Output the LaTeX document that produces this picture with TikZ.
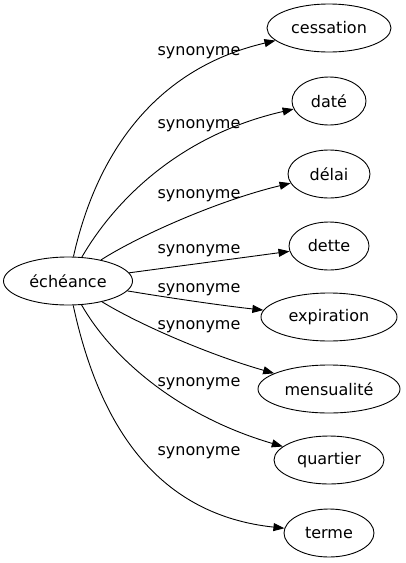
\documentclass[tikz,border=0pt]{standalone}
\usepackage{fontspec}
\setmainfont{DejaVu Sans}
\usetikzlibrary{shapes.geometric,arrows.meta}

\begin{document}
\begin{tikzpicture}[x=1pt,y=-1pt,
        word/.style={draw,ellipse,inner sep=0pt,minimum height=48pt,line width=0.9pt,font=\fontsize{16}{19}\selectfont},
        syn/.style={-{Triangle[length=11pt,width=8pt]},line width=0.9pt},
        rel/.style={anchor=base,inner sep=0pt,font=\fontsize{16}{19}\selectfont}]
        \useasboundingbox (0,0) rectangle (405,563);

        % head word
        \node[word,minimum width=129pt] (ech) at (68,281) {échéance};

        % synonyms: name/text/width/y/control points/label y
        \foreach \n/\t/\w/\y/\ax/\ay/\bx/\by/\ly in {
            ces/cessation/124/28/95/160/150/70/55,
            dat/daté/74/101/115/200/180/135/128,
            del/délai/82/174/140/235/220/200/198,
            det/dette/80/246/180/266/240/258/253,
            exp/expiration/136/317/170/298/225/306/292,
            men/mensualité/142/389/140/325/210/355/329,
            qua/quartier/110/460/110/355/175/415/386,
            ter/terme/90/533/100/430/160/515/455} {
            \node[word,minimum width=\w pt] (\n) at (329,\y) {\t};
            \draw[syn] (ech) .. controls (\ax,\ay) and (\bx,\by) .. (\n);
            \node[rel] (l\n) at (199,\ly) {synonyme};
        }
    \end{tikzpicture}
\end{document}
